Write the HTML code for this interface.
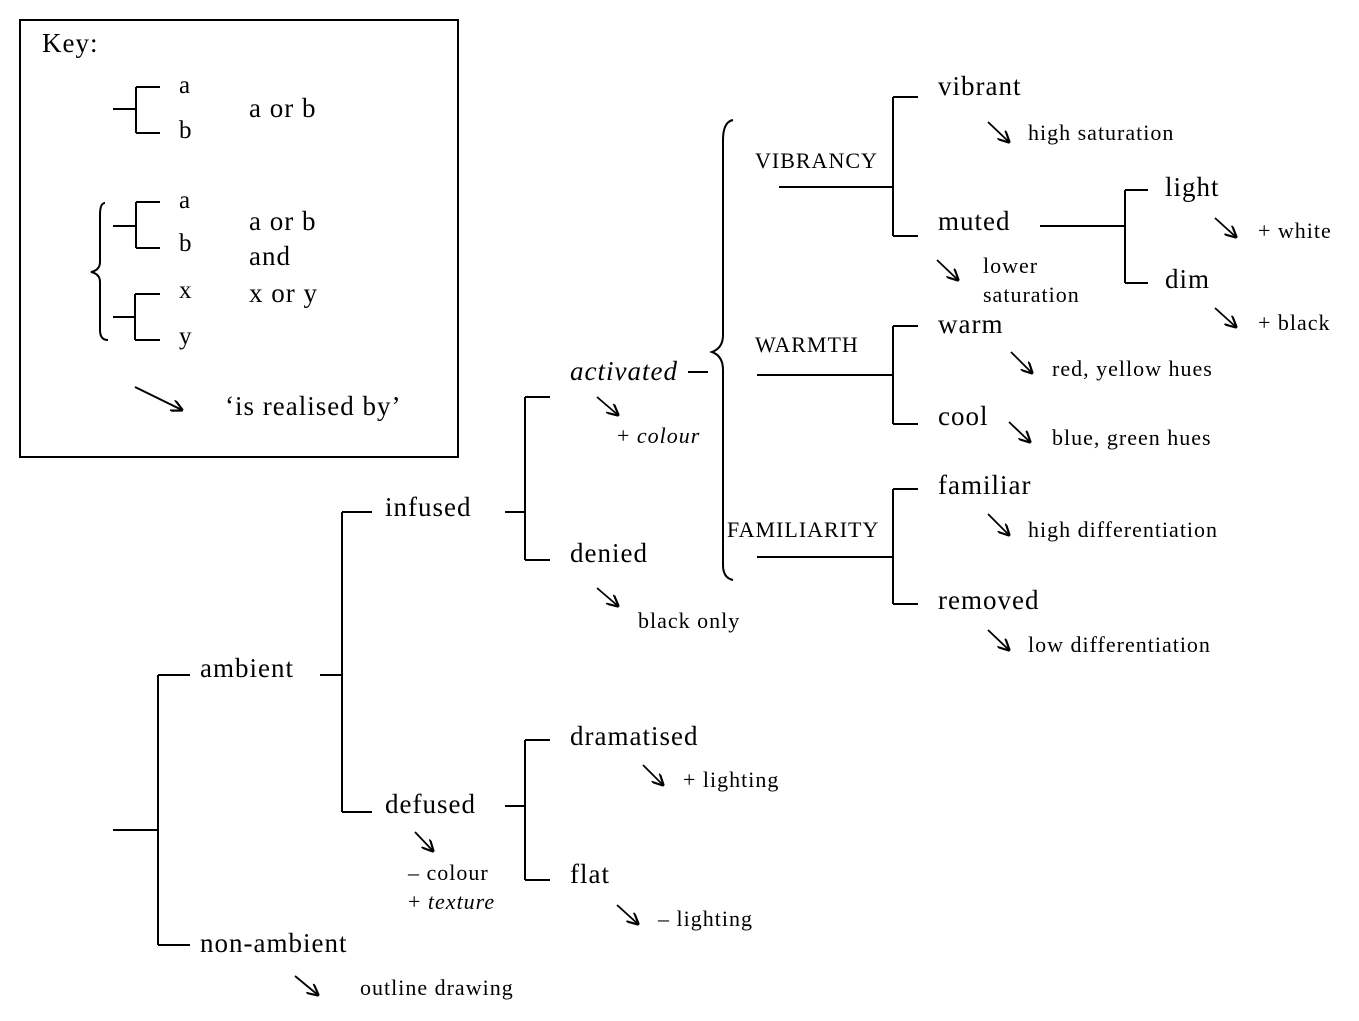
<!DOCTYPE html>
<html><head><meta charset="utf-8"><style>
html,body{margin:0;padding:0;background:#fff}
svg{display:block}
text{font-family:"Liberation Serif",serif;fill:#000}
.L{font-size:27px;letter-spacing:1px}.S{font-size:22px;letter-spacing:1px}.C{font-size:25px}
</style></head><body>
<svg width="1359" height="1021" viewBox="0 0 1359 1021" xmlns="http://www.w3.org/2000/svg">
<defs><marker id="ah" viewBox="0 0 10 10" refX="9" refY="5" markerWidth="12" markerHeight="12" orient="auto" markerUnits="userSpaceOnUse"><path d="M0,0 L10,5 L0,10" fill="none" stroke="#000" stroke-width="1.8"/></marker></defs>
<g stroke="#000" stroke-width="2" fill="none">
<rect x="20" y="20" width="438" height="437"/>
<path d="M113,109H136M136,87V133M136,87H160M136,133H160"/>
<path d="M113,226H136M136,202V248M136,202H160M136,248H160"/>
<path d="M113,317H135M135,294V340M135,294H160M135,340H160"/>
<path d="M105,203Q100,203 100,215V262Q100,270 91,272Q100,274 100,282V330Q100,340 108,340"/>
<path d="M135,387L182,410" marker-end="url(#ah)"/>
<path d="M113,830H158M158,675V945M158,675H190M158,945H190"/>
<path d="M320,675H342M342,512V812M342,512H372M342,812H372"/>
<path d="M505,512H525M525,397V560M525,397H550M525,560H550"/>
<path d="M505,806H525M525,740V880M525,740H550M525,880H550"/>
<path d="M688,372H708"/>
<path d="M733,120Q723,122 723,140V335Q723,348 712,352Q723,356 723,370V565Q723,578 733,580"/>
<path d="M779,187H893M893,97V236M893,97H918M893,236H918"/>
<path d="M1040,226H1125M1125,190V283M1125,190H1148M1125,283H1148"/>
<path d="M757,375H893M893,326V424M893,326H918M893,424H918"/>
<path d="M757,557H893M893,489V604M893,489H918M893,604H918"/>
<g stroke-width="1.8">
<path d="M295,976L318,995" marker-end="url(#ah)"/>
<path d="M415,832L433,851" marker-end="url(#ah)"/>
<path d="M597,397L618,415" marker-end="url(#ah)"/>
<path d="M597,588L618,606" marker-end="url(#ah)"/>
<path d="M643,765L663,785" marker-end="url(#ah)"/>
<path d="M617,905L638,924" marker-end="url(#ah)"/>
<path d="M988,122L1009,142" marker-end="url(#ah)"/>
<path d="M937,260L958,280" marker-end="url(#ah)"/>
<path d="M1215,218L1236,237" marker-end="url(#ah)"/>
<path d="M1215,308L1236,327" marker-end="url(#ah)"/>
<path d="M1011,352L1032,373" marker-end="url(#ah)"/>
<path d="M1009,422L1030,442" marker-end="url(#ah)"/>
<path d="M988,514L1009,535" marker-end="url(#ah)"/>
<path d="M988,630L1009,650" marker-end="url(#ah)"/>
</g>
</g>
<text class="L" x="42" y="52">Key:</text>
<text class="C" x="179" y="93">a</text><text class="C" x="179" y="138">b</text>
<text class="L" x="249" y="117">a or b</text>
<text class="C" x="179" y="208">a</text><text class="C" x="179" y="251">b</text>
<text class="C" x="179" y="298">x</text><text class="C" x="179" y="344">y</text>
<text class="L" x="249" y="230">a or b</text>
<text class="L" x="249" y="265">and</text>
<text class="L" x="249" y="302">x or y</text>
<text class="L" x="225" y="415">‘is realised by’</text>

<text class="L" x="200" y="677">ambient</text>
<text class="L" x="200" y="952">non-ambient</text>
<text class="S" x="360" y="995">outline drawing</text>
<text class="L" x="385" y="516">infused</text>
<text class="L" x="385" y="813">defused</text>
<text class="S" x="408" y="880">– colour</text>
<text class="S" x="408" y="909">+ <tspan font-style="italic">texture</tspan></text>
<text class="L" x="570" y="380" font-style="italic">activated</text>
<text class="S" x="617" y="443">+ <tspan font-style="italic">colour</tspan></text>
<text class="L" x="570" y="562">denied</text>
<text class="S" x="638" y="628">black only</text>
<text class="L" x="570" y="745">dramatised</text>
<text class="S" x="683" y="787">+ lighting</text>
<text class="L" x="570" y="883">flat</text>
<text class="S" x="658" y="926">– lighting</text>

<text class="S" x="755" y="168">VIBRANCY</text>
<text class="L" x="938" y="95">vibrant</text>
<text class="S" x="1028" y="140">high saturation</text>
<text class="L" x="938" y="230">muted</text>
<text class="S" x="983" y="273">lower</text>
<text class="S" x="983" y="302">saturation</text>
<text class="L" x="1165" y="196">light</text>
<text class="S" x="1258" y="238">+ white</text>
<text class="L" x="1165" y="288">dim</text>
<text class="S" x="1258" y="330">+ black</text>
<text class="S" x="755" y="352">WARMTH</text>
<text class="L" x="938" y="333">warm</text>
<text class="S" x="1052" y="376">red, yellow hues</text>
<text class="L" x="938" y="425">cool</text>
<text class="S" x="1052" y="445">blue, green hues</text>
<text class="S" x="727" y="537" letter-spacing="0.3">FAMILIARITY</text>
<text class="L" x="938" y="494">familiar</text>
<text class="S" x="1028" y="537">high differentiation</text>
<text class="L" x="938" y="609">removed</text>
<text class="S" x="1028" y="652">low differentiation</text>
</svg>
</body></html>
